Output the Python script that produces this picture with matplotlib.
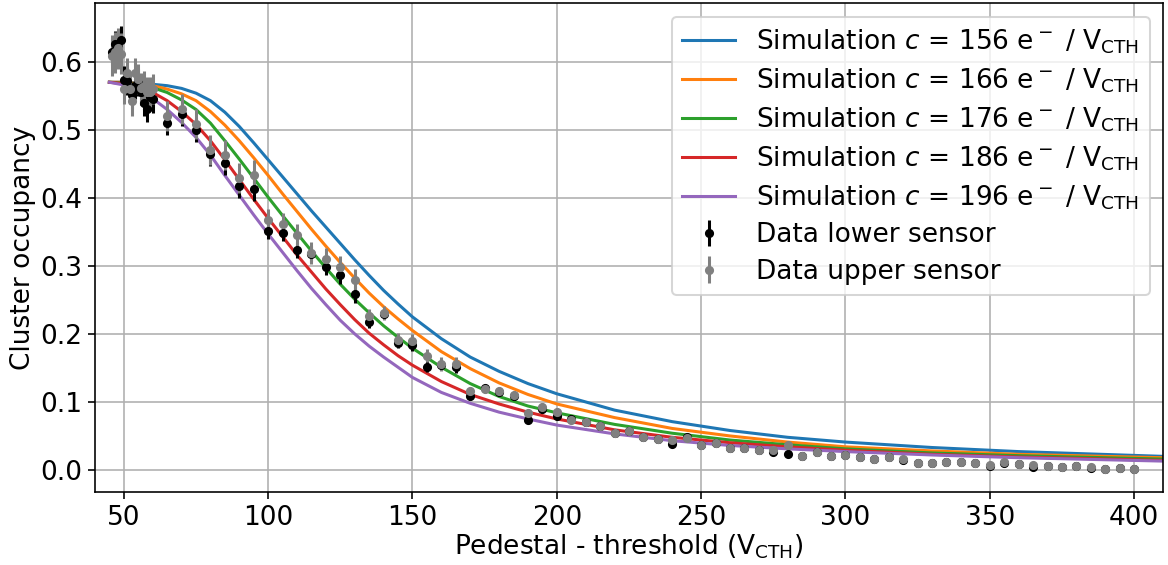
import numpy as np
import matplotlib
matplotlib.use('Agg')
import matplotlib.pyplot as plt

plt.rcParams['font.size'] = 13

# simulation curves, x in V_CTH
sim_x = [45, 50, 55, 60, 65, 70, 75, 80, 85, 90, 95, 100, 105, 110, 115, 120, 125, 130, 135,
         140, 145, 150, 160, 170, 180, 190, 200, 220, 240, 260, 280, 300, 330, 360, 410]
sim_c = [156, 166, 176, 186, 196]
sim_156 = [.570, .570, .569, .567, .565, .561, .554, .543, .526, .505, .481, .456, .431, .406, .381,
           .357, .333, .309, .286, .264, .244, .225, .193, .166, .145, .127, .112, .088, .071, .058,
           .048, .041, .033, .027, .020]
sim_166 = [.570, .570, .568, .565, .560, .553, .543, .527, .507, .484, .459, .433, .406, .380, .354,
           .329, .305, .282, .260, .240, .222, .205, .174, .149, .128, .111, .097, .077, .061, .050,
           .041, .034, .028, .023, .018]
sim_176 = [.570, .569, .566, .562, .555, .544, .530, .510, .484, .457, .429, .401, .374, .348, .322,
           .297, .273, .251, .231, .212, .195, .179, .151, .127, .108, .094, .084, .067, .054, .044,
           .037, .031, .025, .021, .016]
sim_186 = [.570, .568, .563, .555, .543, .527, .508, .484, .456, .427, .398, .370, .343, .316, .291,
           .266, .243, .221, .201, .184, .168, .154, .130, .111, .097, .085, .075, .059, .048, .040,
           .034, .029, .023, .019, .014]
sim_196 = [.570, .566, .558, .546, .530, .511, .489, .463, .433, .404, .375, .347, .320, .293, .267,
           .243, .220, .200, .182, .166, .151, .136, .114, .098, .085, .075, .066, .053, .043, .036,
           .031, .027, .022, .018, .013]
sims = [sim_156, sim_166, sim_176, sim_186, sim_196]

# measured data
x_near = [46, 47, 48, 49, 50, 51, 52, 53, 54, 55, 56, 57, 58, 59, 60]
x_scan = list(range(65, 401, 5))
data_x = x_near + x_scan

lower = [.615, .626, .622, .632, .574, .572, .560, .551, .565, .570, .556, .540, .531, .548, .545,
         .510, .524, .500, .465, .451, .418, .413, .351, .348, .323, .318, .298, .286, .258, .217,
         .230, .187, .183, .152, .155, .151, .108, .120, .115, .108, .074, .089, .080, .075, .071,
         .064, .055, .057, .048, .045, .038, .048, .037, .039, .033, .032, .029, .026, .023, .020,
         .027, .021, .022, .019, .016, .019, .015, .010, .010, .011, .011, .010, .006, .010, .009,
         .005, .006, .004, .006, .003, .0015, .003, .0015]
upper = [.609, .614, .620, .612, .560, .584, .560, .542, .583, .575, .562, .565, .556, .556, .560,
         .520, .531, .508, .470, .463, .429, .434, .367, .362, .346, .319, .310, .299, .279, .227,
         .231, .191, .190, .168, .156, .156, .116, .119, .116, .110, .083, .092, .085, .073, .071,
         .064, .055, .057, .048, .045, .044, .047, .037, .039, .032, .032, .029, .029, .037, .020,
         .026, .021, .022, .019, .016, .019, .016, .010, .010, .011, .011, .010, .007, .011, .009,
         .008, .006, .004, .006, .004, .002, .003, .002]

lower_err = [.02] * 15 + [.018] * 7 + [.012] * 7 + [.008] * 7 + [.005] * 7 + [.003] * 40
upper_err = [.03] * 4 + [.022] * 11 + [.022] * 7 + [.016] * 7 + [.01] * 7 + [.006] * 7 + [.003] * 40

fig, ax = plt.subplots(figsize=(8, 3.87), dpi=146)
fig.subplots_adjust(left=0.0813, right=0.9957, bottom=0.1297, top=0.994)

for c, y in zip(sim_c, sims):
    ax.plot(sim_x, y, label=r'Simulation $c$ = %d e$^-$ / V$_{\mathrm{CTH}}$' % c)

ax.errorbar(data_x, lower, yerr=lower_err, fmt='o', color='black', ms=3.5,
            label='Data lower sensor')
ax.errorbar(data_x, upper, yerr=upper_err, fmt='o', color='gray', ms=3.5,
            label='Data upper sensor')

ax.set_xlim(40, 410)
ax.set_ylim(-0.032, 0.686)
ax.set_xlabel(r'Pedestal - threshold (V$_{\mathrm{CTH}}$)', labelpad=1)
ax.set_ylabel('Cluster occupancy', labelpad=2)
ax.tick_params(pad=3)
ax.grid(True)
ax.legend(loc='upper right', labelspacing=0.4)

plt.savefig('out.png')
